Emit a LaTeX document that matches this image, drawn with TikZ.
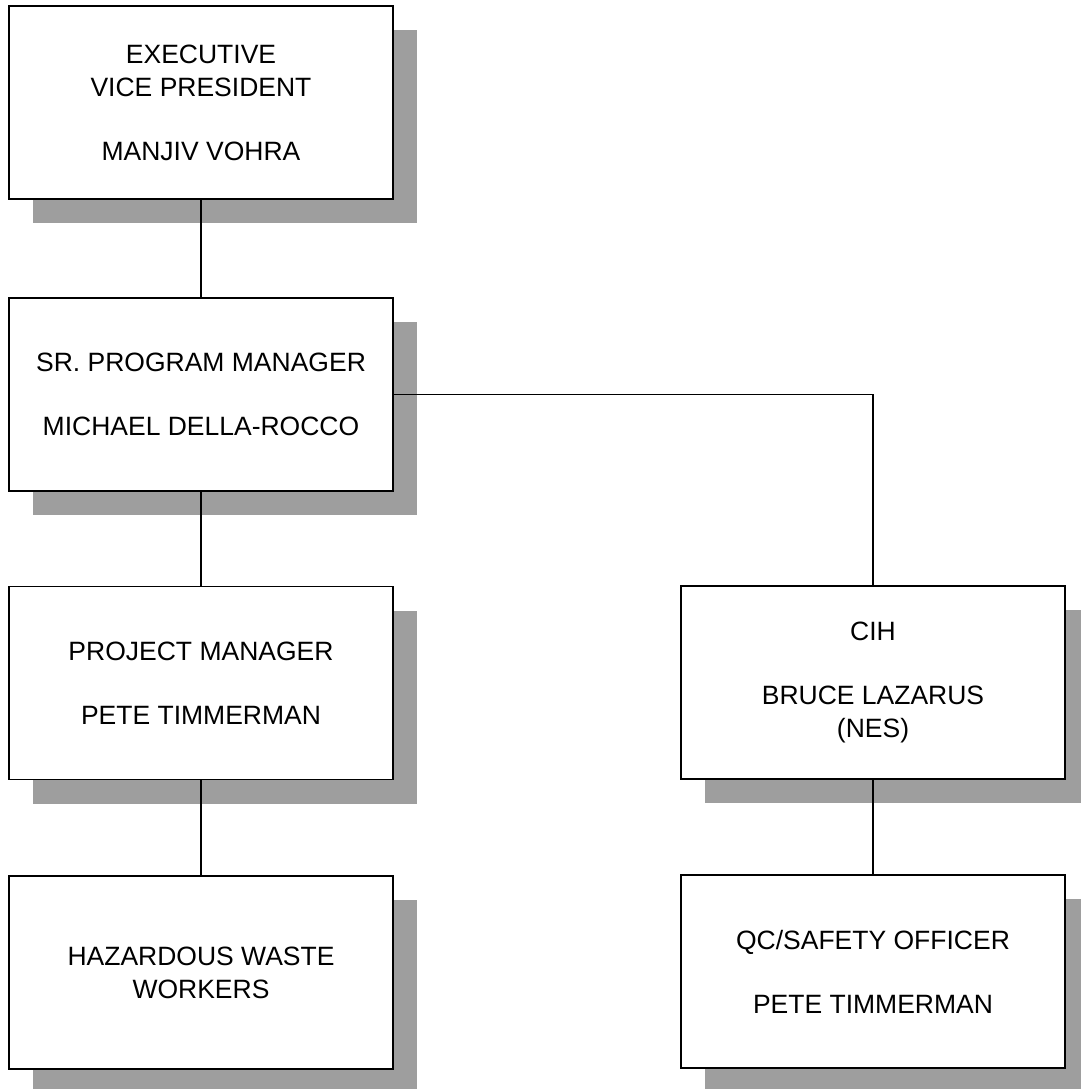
\documentclass[tikz,border=0pt]{standalone}
\usepackage{fontspec}
\setmainfont{Liberation Sans}
\usetikzlibrary{shadows}
\begin{document}
\begin{tikzpicture}[x=1pt,y=-1pt,
  orgbox/.style={draw=black, line width=1.7pt, fill=white, rectangle,
    minimum width=384pt, minimum height=193pt, inner sep=0pt, outer sep=0pt,
    align=center, font=\fontsize{26.5}{33}\selectfont,
    drop shadow={shadow xshift=24pt, shadow yshift=-24pt, fill=black!38, draw=none, opacity=1}},
  link/.style={draw=black, line width=1.3pt}]
\useasboundingbox (0,0) rectangle (1080,1089);
\fill[white] (0,0) rectangle (1080,1089);
\node[orgbox] (exec) at (201,102.5) {EXECUTIVE\\VICE PRESIDENT\\[31pt]MANJIV VOHRA};
\node[orgbox] (sr) at (201,394.5) {SR. PROGRAM MANAGER\\[31pt]MICHAEL DELLA-ROCCO};
\node[orgbox] (pm) at (201,683) {PROJECT MANAGER\\[31pt]PETE TIMMERMAN};
\node[orgbox] (hz) at (201,972.5) {HAZARDOUS WASTE\\WORKERS};
\node[orgbox] (cih) at (873,682.5) {CIH\\[31pt]BRUCE LAZARUS\\(NES)};
\node[orgbox] (qc) at (873,971.5) {QC/SAFETY OFFICER\\[31pt]PETE TIMMERMAN};
\draw[link] (exec.south) -- (sr.north);
\draw[link] (sr.south) -- (pm.north);
\draw[link] (pm.south) -- (hz.north);
\draw[link] (sr.east) -| (cih.north);
\draw[link] (cih.south) -- (qc.north);
\end{tikzpicture}
\end{document}
